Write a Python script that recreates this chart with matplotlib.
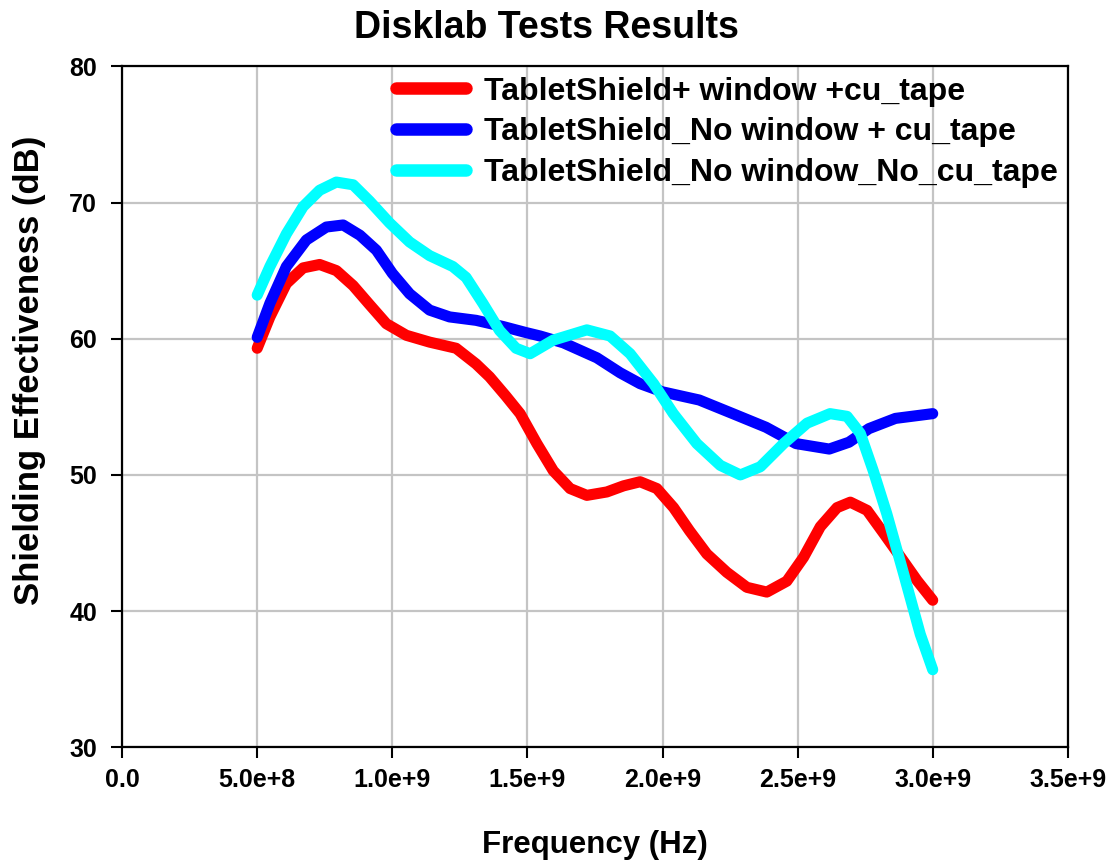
import matplotlib
matplotlib.use("Agg")
import matplotlib.pyplot as plt
from matplotlib.ticker import FuncFormatter, MultipleLocator

plt.rcParams['font.family'] = ['Liberation Sans', 'DejaVu Sans']
plt.rcParams['font.weight'] = 'bold'

# datos (frecuencia en GHz, SE en dB)
f_red = [0.50, 0.547, 0.608, 0.67, 0.731, 0.793, 0.855, 0.916, 0.978, 1.052, 1.138,
         1.236, 1.31, 1.36, 1.42, 1.473, 1.535, 1.596, 1.658, 1.72, 1.794, 1.856,
         1.917, 1.979, 2.041, 2.10, 2.164, 2.238, 2.312, 2.386, 2.46, 2.522, 2.584,
         2.646, 2.695, 2.757, 2.819, 2.88, 2.942, 3.0]
se_red = [59.3, 61.6, 64.05, 65.2, 65.45, 65.0, 63.9, 62.5, 61.1, 60.25, 59.75,
          59.3, 58.15, 57.2, 55.8, 54.5, 52.3, 50.3, 49.0, 48.5, 48.75, 49.2,
          49.5, 49.0, 47.6, 45.9, 44.2, 42.85, 41.75, 41.4, 42.2, 43.95, 46.2,
          47.6, 48.0, 47.4, 45.7, 44.0, 42.25, 40.8]

f_blue = [0.50, 0.547, 0.608, 0.682, 0.756, 0.818, 0.88, 0.941, 1.0, 1.064, 1.138,
          1.212, 1.31, 1.409, 1.495, 1.547, 1.633, 1.757, 1.843, 1.917, 2.0, 2.136,
          2.26, 2.383, 2.494, 2.617, 2.69, 2.764, 2.862, 3.0]
se_blue = [60.1, 62.6, 65.3, 67.25, 68.2, 68.35, 67.6, 66.5, 64.8, 63.3, 62.1,
           61.6, 61.35, 60.9, 60.45, 60.2, 59.7, 58.6, 57.5, 56.7, 56.1, 55.5,
           54.5, 53.5, 52.3, 51.9, 52.4, 53.4, 54.15, 54.5]

f_cyan = [0.50, 0.547, 0.608, 0.67, 0.731, 0.793, 0.855, 0.916, 0.99, 1.064, 1.138,
          1.224, 1.273, 1.335, 1.397, 1.458, 1.51, 1.596, 1.72, 1.806, 1.88, 1.967,
          2.04, 2.127, 2.214, 2.288, 2.362, 2.448, 2.535, 2.62, 2.683, 2.732, 2.78,
          2.83, 2.893, 2.954, 3.0]
se_cyan = [63.2, 65.3, 67.7, 69.7, 70.9, 71.5, 71.3, 70.1, 68.5, 67.1, 66.1,
           65.3, 64.5, 62.6, 60.6, 59.3, 58.9, 59.9, 60.65, 60.2, 58.9, 56.7,
           54.5, 52.3, 50.7, 50.0, 50.6, 52.3, 53.8, 54.5, 54.3, 53.05, 50.3,
           47.15, 42.7, 38.3, 35.7]

labels = ['TabletShield+ window +cu_tape',
          'TabletShield_No window + cu_tape',
          'TabletShield_No window_No_cu_tape']

fig = plt.figure(figsize=(11.10, 8.61), dpi=100)
ax = fig.add_axes([0.110, 0.132, 0.852, 0.791])

lw = 8
ax.plot([f * 1e9 for f in f_red], se_red, color='#ff0000', lw=lw,
        solid_capstyle='round', solid_joinstyle='round', label=labels[0])
ax.plot([f * 1e9 for f in f_blue], se_blue, color='#0000ff', lw=lw,
        solid_capstyle='round', solid_joinstyle='round', label=labels[1])
ax.plot([f * 1e9 for f in f_cyan], se_cyan, color='#00ffff', lw=lw,
        solid_capstyle='round', solid_joinstyle='round', label=labels[2])

ax.set_xlim(0, 3.5e9)
ax.set_ylim(30, 80)
ax.xaxis.set_major_locator(MultipleLocator(5e8))
ax.yaxis.set_major_locator(MultipleLocator(10))


def fmt_x(v, pos):
    if v == 0:
        return '0.0'
    return ('%.1e' % v).replace('e+0', 'e+')
ax.xaxis.set_major_formatter(FuncFormatter(fmt_x))

ax.grid(True, color='#c4c4c4', lw=1.6)
ax.set_axisbelow(True)
for s in ax.spines.values():
    s.set_linewidth(1.6)
ax.tick_params(axis='both', direction='out', length=8, width=1.5, labelsize=18)
ax.tick_params(axis='x', pad=7)
ax.tick_params(axis='y', pad=10)
for t in ax.get_xticklabels() + ax.get_yticklabels():
    t.set_fontweight('bold')

# titulo centrado en la figura, no en los ejes
fig.text(0.492, 0.968, 'Disklab Tests Results', fontsize=27, fontweight='bold',
         ha='center', va='center')
ax.set_xlabel('Frequency (Hz)', fontsize=22.5, fontweight='bold', labelpad=27)
ax.set_ylabel('Shielding Effectiveness (dB)', fontsize=25, fontweight='bold')
ax.yaxis.set_label_coords(-0.080, 0.554)

leg = ax.legend(loc='upper right', bbox_to_anchor=(1.0, 1.0), frameon=False,
                fontsize=23, handlelength=2.2, handletextpad=0.55,
                labelspacing=0.34, borderaxespad=0.22, borderpad=0.1)
for t in leg.get_texts():
    t.set_fontweight('bold')
for l in leg.get_lines():
    l.set_linewidth(9)

fig.savefig('out.png', dpi=100)
